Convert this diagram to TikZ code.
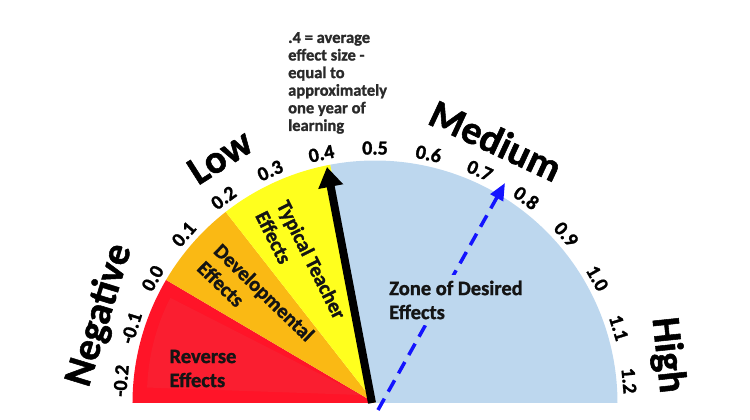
\documentclass[tikz,border=0pt]{standalone}
\usepackage{fontspec}
\setmainfont{Carlito}[BoldFeatures={FakeBold=1.3}]
\usetikzlibrary{arrows.meta}
\definecolor{rzone}{HTML}{FF1428}
\definecolor{rinner}{HTML}{FA1E30}
\definecolor{ozone}{HTML}{FAB914}
\definecolor{yzone}{HTML}{FFFF1E}
\definecolor{bzone}{HTML}{BDD7EE}
\definecolor{bline}{HTML}{1414FF}
\definecolor{annot}{HTML}{2A2A2A}
\begin{document}
\begin{tikzpicture}[x=1pt,y=1pt,
  bigtxt/.style={font=\fontsize{40}{44}\selectfont\bfseries, inner sep=0pt},
  ticktxt/.style={font=\fontsize{20}{22}\selectfont\bfseries, inner sep=0pt},
  zonetxt/.style={font=\fontsize{20.5}{24}\selectfont\bfseries, align=left, inner sep=0pt, text=black!92},
  annotxt/.style={font=\fontsize{16.5}{17.6}\selectfont\bfseries, align=left, inner sep=0pt, text=annot}
]
\useasboundingbox (-375,-17) rectangle (375,403);
\def\R{242.5}
\coordinate (O) at (0,0);
% sectors
\fill[rzone] (O) -- (180:\R) arc[start angle=180,end angle=149.5,radius=\R] -- cycle;
\fill[rinner] (-14,8) -- ++(178:214) arc[start angle=178,end angle=153,radius=214] -- cycle;
\fill[ozone] (O) -- (149.5:\R) arc[start angle=149.5,end angle=128,radius=\R] -- cycle;
\fill[yzone] (O) -- (128:\R) arc[start angle=128,end angle=100.6,radius=\R] -- cycle;
\fill[bzone] (O) -- (100.6:\R) arc[start angle=100.6,end angle=0,radius=\R] -- cycle;
% tick labels
\foreach \v [count=\i from 0] in {-0.2,-0.1,0.0,0.1,0.2,0.3,0.4,0.5,0.6,0.7,0.8,0.9,1.0,1.1,1.2}
  \node[ticktxt, rotate={175-12.1429*\i-90}] (t\i) at ({175-12.1429*\i}:255) {\v};
% big labels
\node[bigtxt, rotate=73] (neg) at (162.3:289) {Negative};
\node[bigtxt, rotate=32.5] (low) at (122.2:291) {Low};
\node[bigtxt, rotate=-25] (med) at (65.3:289) {Medium};
\node[bigtxt, rotate=-84] (high) at (9.3:296) {High};
% black arrow
\coordinate (ab) at (-3,0);
\coordinate (ta) at (-48,236);
\draw[line width=8pt, -{Triangle[length=20pt,width=24pt]}] (ab) -- (ta);
% blue dashed arrow
\coordinate (bs) at (3,-7);
\coordinate (bt) at (130,220);
\draw[bline, line width=3.5pt, dash pattern=on 13pt off 8pt, -{Triangle[length=17pt,width=14pt]}] (bs) -- (bt);
% sector texts
\node[zonetxt] (rev) at (-172,34.5) {Reverse\\Effects};
\node[zonetxt, rotate=-44] (dev) at (-119,102) {Developmental\\Effects};
\node[zonetxt, rotate=-63.4] (typ) at (-74,138) {Typical Teacher\\Effects};
\node[zonetxt, fill=bzone, inner sep=6pt] (zone) at (81,103) {Zone of Desired\\Effects};
% annotation
\node[annotxt, anchor=north west] (note) at (-87,371) {.4 = average\\effect size -\\equal to\\approximately\\one year of\\learning};
\end{tikzpicture}
\end{document}
